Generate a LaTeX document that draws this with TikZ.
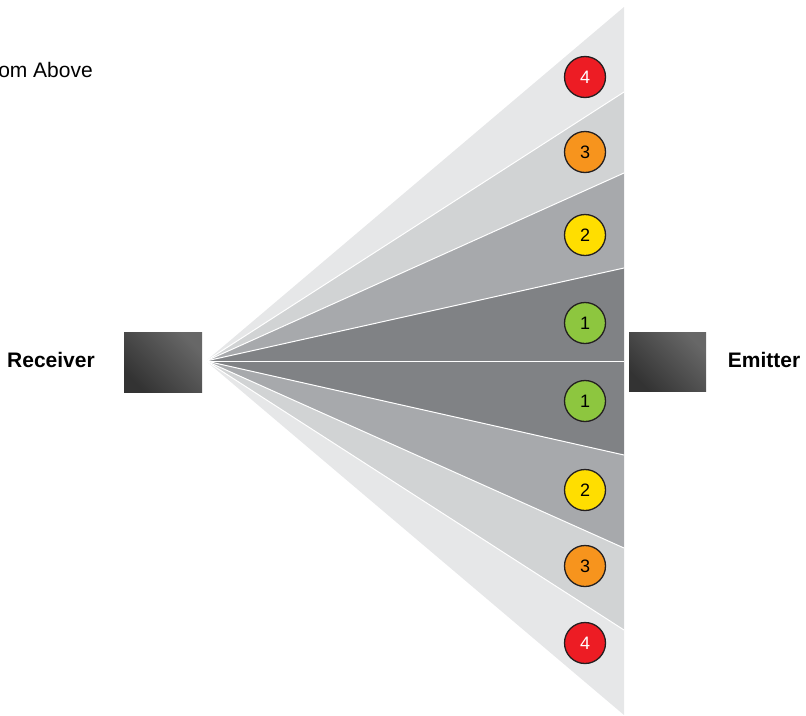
\documentclass[tikz,border=0pt]{standalone}
\usepackage{fontspec}
\setmainfont{Liberation Sans}
\definecolor{bandA}{HTML}{808285}
\definecolor{bandB}{HTML}{A7A9AC}
\definecolor{bandC}{HTML}{D1D3D4}
\definecolor{bandD}{HTML}{E6E7E8}
\definecolor{cred}{HTML}{ED1C24}
\definecolor{corange}{HTML}{F7941D}
\definecolor{cyellow}{HTML}{FFDE00}
\definecolor{cgreen}{HTML}{8DC63F}
\definecolor{cedge}{HTML}{231F20}
\definecolor{boxlight}{HTML}{676767}
\definecolor{boxdark}{HTML}{333333}
\begin{document}
\begin{tikzpicture}[x=1pt,y=-1pt,
  devicebox/.style={rectangle, inner sep=0pt, top color=boxlight, bottom color=boxdark, shading angle=-45},
  zone/.style={circle, draw=cedge, line width=1.3pt, minimum size=41pt, inner sep=0pt, font=\fontsize{18}{20}\selectfont},
  label/.style={inner sep=0pt, font=\fontsize{21}{24}\selectfont\bfseries},
  sep/.style={draw=white, line width=1pt}]
\useasboundingbox (0,0) rectangle (806,715);
\clip (0,0) rectangle (806,715);
\coordinate (apex) at (206,361);
\coordinate (t0) at (624,7);
\coordinate (t1) at (624,92);
\coordinate (t2) at (624,173);
\coordinate (t3) at (624,268);
\coordinate (mid) at (624,361);
\coordinate (b3) at (624,455);
\coordinate (b2) at (624,548);
\coordinate (b1) at (624,630);
\coordinate (b0) at (624,715);
% bands
\fill[bandD] (apex) -- (t0) -- (t1) -- cycle;
\fill[bandC] (apex) -- (t1) -- (t2) -- cycle;
\fill[bandB] (apex) -- (t2) -- (t3) -- cycle;
\fill[bandA] (apex) -- (t3) -- (mid) -- cycle;
\fill[bandA] (apex) -- (mid) -- (b3) -- cycle;
\fill[bandB] (apex) -- (b3) -- (b2) -- cycle;
\fill[bandC] (apex) -- (b2) -- (b1) -- cycle;
\fill[bandD] (apex) -- (b1) -- (b0) -- cycle;
\foreach \c in {t1,t2,t3,mid,b3,b2,b1} \draw[sep] (apex) -- (\c);
% devices
\node[devicebox, minimum width=78pt, minimum height=60pt] (receiver) at (163,362) {};
\node[devicebox, minimum width=77pt, minimum height=59pt] (emitter) at (667.5,361.5) {};
\node[label, anchor=base] (rlabel) at (51,367) {Receiver};
\node[label, anchor=base] (elabel) at (764,367) {Emitter};
\node[inner sep=0pt, anchor=base east, font=\fontsize{21}{24}\selectfont] (title) at (93,77) {From Above};
% zones
\node[zone, fill=cred, text=white] (z4t) at (585,77) {4};
\node[zone, fill=corange] (z3t) at (585,152) {3};
\node[zone, fill=cyellow] (z2t) at (585,235) {2};
\node[zone, fill=cgreen] (z1t) at (585,323) {1};
\node[zone, fill=cgreen] (z1b) at (585,401) {1};
\node[zone, fill=cyellow] (z2b) at (585,490) {2};
\node[zone, fill=corange] (z3b) at (585,566) {3};
\node[zone, fill=cred, text=white] (z4b) at (585,643) {4};
\end{tikzpicture}
\end{document}
